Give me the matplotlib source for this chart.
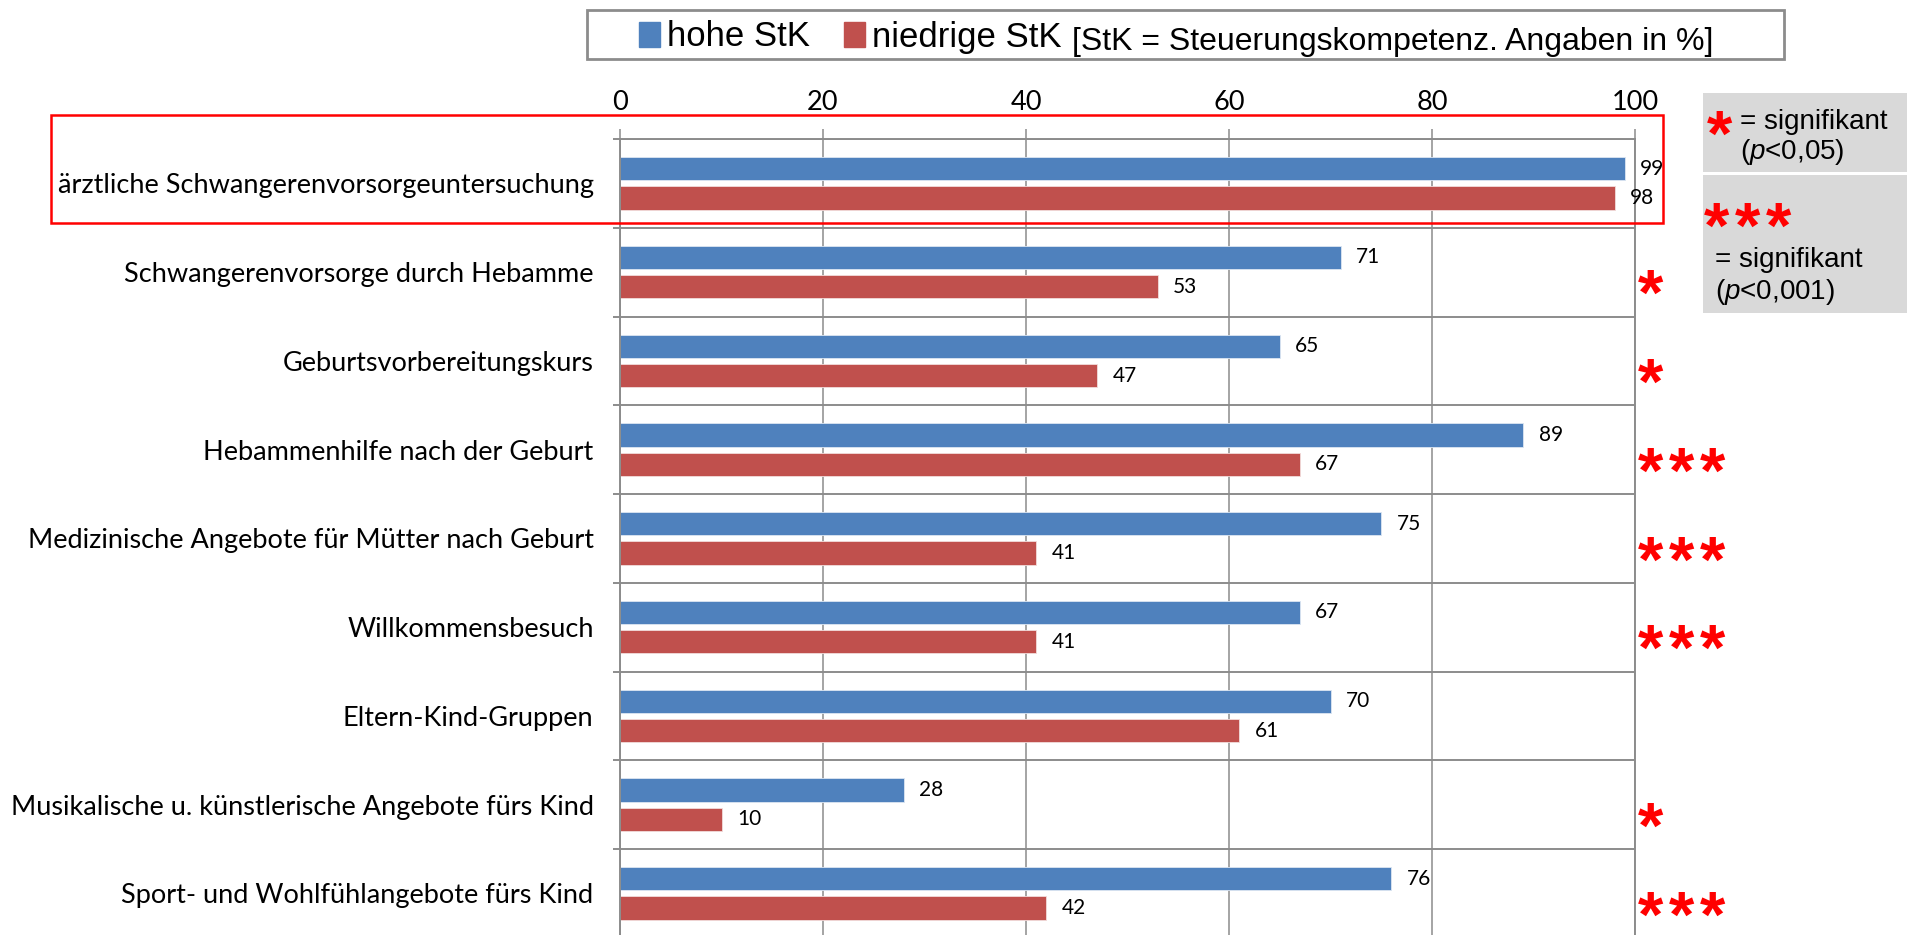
import numpy as np
import matplotlib
matplotlib.use("Agg")
import matplotlib.pyplot as plt
from matplotlib.patches import Rectangle, Patch

categories = [
    "ärztliche Schwangerenvorsorgeuntersuchung",
    "Schwangerenvorsorge durch Hebamme",
    "Geburtsvorbereitungskurs",
    "Hebammenhilfe nach der Geburt",
    "Medizinische Angebote für Mütter nach Geburt",
    "Willkommensbesuch",
    "Eltern-Kind-Gruppen",
    "Musikalische u. künstlerische Angebote fürs Kind",
    "Sport- und Wohlfühlangebote fürs Kind",
]
hohe = [99, 71, 65, 89, 75, 67, 70, 28, 76]
niedrige = [98, 53, 47, 67, 41, 41, 61, 10, 42]
signif = ["", "*", "*", "***", "***", "***", "", "*", "***"]
xticks = [0, 20, 40, 60, 80, 100]

BLUE = "#4F81BD"
RED = "#C0504D"
GRID = "#8C8C8C"

plt.rcParams["mathtext.fontset"] = "custom"
plt.rcParams["mathtext.it"] = "Liberation Sans:italic"
plt.rcParams["mathtext.rm"] = "Liberation Sans"

W, H = 1916, 935
fig = plt.figure(figsize=(W / 100, H / 100), dpi=100)


def fx(px):
    return px / W


def fy(py):
    return 1 - py / H


STAR = dict(color="red", fontsize=47, fontweight="bold", family="Liberation Sans",
            va="baseline", ha="left")
PITCH = 31 * 0.72  # points between stars

# axes: x=0 at 620px, x=100 at 1635px, top at 139px, 9 rows of ~88.75px
ax = fig.add_axes([fx(620), fy(937.75), (1635 - 620) / W, (937.75 - 139) / H])
y = np.arange(len(categories))
b1 = ax.barh(y - 0.165, hohe, height=0.26, color=BLUE, edgecolor="#dce6f2", linewidth=0.6)
b2 = ax.barh(y + 0.165, niedrige, height=0.26, color=RED, edgecolor="#f2dcdb", linewidth=0.6)
ax.bar_label(b1, padding=11, fontsize=15, family="Lato")
ax.bar_label(b2, padding=11, fontsize=15, family="Lato")

ax.set_xlim(0, 100)
ax.set_ylim(len(categories) - 0.5, -0.5)
ax.xaxis.tick_top()
ax.set_xticks(xticks)
ax.tick_params(axis="x", length=7, width=1.1, color=GRID, pad=10, labelsize=19.5)
for lab in ax.get_xticklabels():
    lab.set_family("Lato")
ax.grid(axis="x", color=GRID, lw=1.1)

ax.set_yticks(y)
ax.set_yticklabels(categories, family="Lato", fontsize=19.5)
ax.set_yticks(np.arange(-0.5, len(categories), 1), minor=True)
ax.tick_params(axis="y", which="major", length=0, pad=19)
ax.tick_params(axis="y", which="minor", length=5, width=1.4, color=GRID)
ax.grid(axis="y", which="minor", color=GRID, lw=1.4)
ax.set_axisbelow(True)
for s in ["top", "left", "right"]:
    ax.spines[s].set_color(GRID)
    ax.spines[s].set_linewidth(1.4)
ax.spines["bottom"].set_visible(False)

# significance stars, one glyph at a time for the wide spacing
for i, s in enumerate(signif):
    for k in range(len(s)):
        ax.annotate("*", xy=(100, i), xytext=(3 * 0.72 + k * PITCH, -43 * 0.72),
                    textcoords="offset points", annotation_clip=False, **STAR)

# red frame around first row
fig.patches.append(Rectangle((fx(51), fy(223)), fx(1663) - fx(51), (223 - 115) / H,
                             transform=fig.transFigure, fill=False, ec="red", lw=1.8))

# significance legend boxes
fig.patches.append(Rectangle((fx(1703), fy(172)), (1907 - 1703) / W, (172 - 93) / H,
                             transform=fig.transFigure, fc="#d9d9d9", ec="none"))
fig.patches.append(Rectangle((fx(1703), fy(313)), (1907 - 1703) / W, (313 - 175) / H,
                             transform=fig.transFigure, fc="#d9d9d9", ec="none"))
fig.text(fx(1707), fy(156), "*", **STAR)
fig.text(fx(1740), fy(122), "= signifikant", fontsize=20, family="Liberation Sans", va="center")
fig.text(fx(1740), fy(152), "($p$<0,05)", fontsize=20, family="Liberation Sans", va="center")
for k in range(3):
    fig.text(fx(1704 + 31 * k), fy(248), "*", **STAR)
fig.text(fx(1715), fy(260), "= signifikant", fontsize=20, family="Liberation Sans", va="center")
fig.text(fx(1715), fy(292), "($p$<0,001)", fontsize=20, family="Liberation Sans", va="center")

# top legend
fig.patches.append(Rectangle((fx(587), fy(59)), (1784 - 587) / W, (59 - 10) / H,
                             transform=fig.transFigure, fill=False, ec="#8c8c8c", lw=2))
handles = [Patch(color=BLUE), Patch(color=RED)]
fig.legend(handles, ["hohe StK", "niedrige StK"], loc="center left",
           bbox_to_anchor=(fx(639), fy(37)), ncol=2, frameon=False,
           prop={"family": "Liberation Sans", "size": 25},
           handlelength=0.6, handleheight=0.7, handletextpad=0.2, columnspacing=1.0,
           borderaxespad=0, borderpad=0)
fig.text(fx(1072), fy(42), "[StK = Steuerungskompetenz. Angaben in %]", fontsize=23,
         family="Liberation Sans", va="center")

fig.savefig("out.png", dpi=100)
